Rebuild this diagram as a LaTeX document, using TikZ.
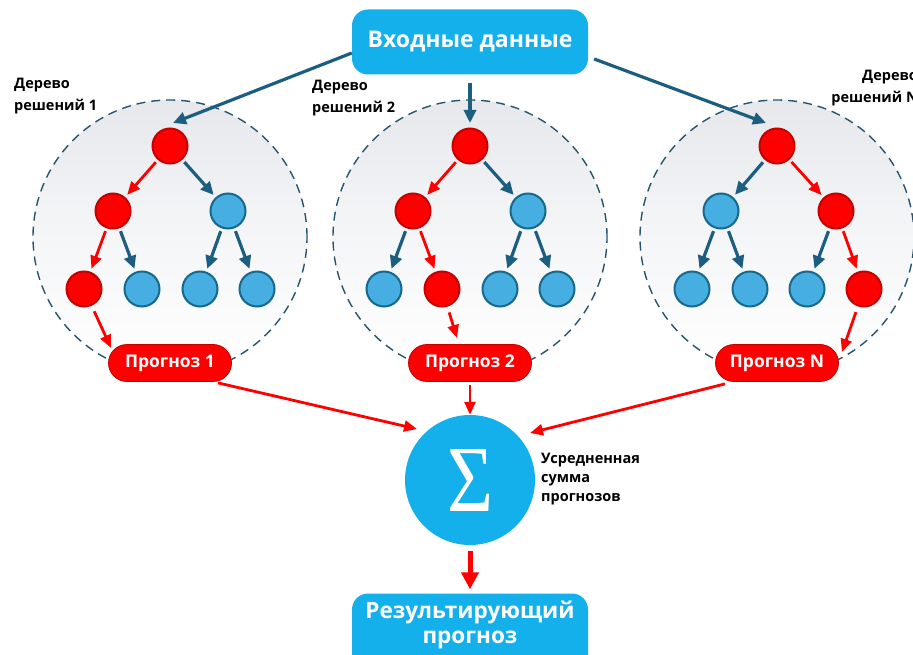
\documentclass[tikz,border=0pt]{standalone}
\usepackage{fontspec}
\setmainfont{Open Sans}
\newfontfamily\sigmafont{Liberation Serif}
\usetikzlibrary{arrows.meta,shapes.misc}
\definecolor{cyanbox}{RGB}{20,176,235}
\definecolor{nodeblue}{RGB}{70,174,224}
\definecolor{nodeblueb}{RGB}{22,104,140}
\definecolor{arrblue}{RGB}{28,94,128}
\definecolor{nodered}{RGB}{255,0,0}
\definecolor{noderedb}{RGB}{196,0,0}
\definecolor{dashblue}{RGB}{38,84,110}
\definecolor{zonegray}{RGB}{230,232,236}
\tikzset{
  rn/.style={circle,fill=nodered,draw=noderedb,line width=2pt,minimum size=35pt,inner sep=0pt},
  bn/.style={circle,fill=nodeblue,draw=nodeblueb,line width=2pt,minimum size=35pt,inner sep=0pt},
  barr/.style={draw=arrblue,line width=3.2pt,-{Triangle[length=13pt,width=12pt]},shorten <=3pt,shorten >=3pt},
  rarr/.style={draw=nodered,line width=2.8pt,-{Triangle[length=13pt,width=11pt]},shorten <=3pt,shorten >=3pt},
  farr/.style={draw=nodered,line width=2.8pt,-{Triangle[length=13pt,width=11pt]}},
  iarr/.style={draw=arrblue,line width=3.2pt,-{Triangle[length=13pt,width=12pt]}},
  progbox/.style={rounded rectangle,fill=nodered,draw=noderedb,line width=0.8pt,minimum width=131pt,minimum height=37pt,inner xsep=4pt,text=white,font=\bfseries\fontsize{17.5}{20}\selectfont},
  bigbox/.style={rounded corners=16pt,fill=cyanbox,minimum width=236pt,minimum height=65pt,text=white,font=\bfseries\fontsize{23}{28}\selectfont},
  lbl/.style={font=\bfseries\fontsize{14.5}{22}\selectfont,inner sep=0pt},
  zone/.style={draw=dashblue,dash pattern=on 9pt off 6pt,line width=1.4pt}
}
\begin{document}
\begin{tikzpicture}[x=1pt,y=-1pt]
\useasboundingbox (0,0) rectangle (913,655);
\clip (0,0) rectangle (913,655);
% zones
\foreach \cx in {170,470,777}{
  \shade[top color=zonegray,bottom color=white,middle color=white!60!zonegray] (\cx,237) circle (137pt);
  \draw[zone] (\cx,237) circle (137pt);
}
% labels
\node[lbl,anchor=west,align=left] (l1) at (14,96) {Дерево\\решений 1};
\node[lbl,anchor=west,align=left] (l2) at (312,98) {Дерево\\решений 2};
\node[lbl,anchor=east,align=right] (l3) at (918,88) {Дерево\\решений N};
% input box
\node[bigbox] (in) at (470,42) {Входные данные};
% tree 1
\node[rn] (t1r) at (170,146) {};
\node[rn] (t1a) at (113,211) {};
\node[bn] (t1b) at (228,211) {};
\node[rn] (t1aa) at (84,289) {};
\node[bn] (t1ab) at (142,289) {};
\node[bn] (t1ba) at (200,289) {};
\node[bn] (t1bb) at (257,289) {};
% tree 2
\node[rn] (t2r) at (470,146) {};
\node[rn] (t2a) at (413,211) {};
\node[bn] (t2b) at (528,211) {};
\node[bn] (t2aa) at (384,289) {};
\node[rn] (t2ab) at (442,289) {};
\node[bn] (t2ba) at (500,289) {};
\node[bn] (t2bb) at (557,289) {};
% tree N
\node[rn] (t3r) at (777,146) {};
\node[bn] (t3a) at (721,211) {};
\node[rn] (t3b) at (836,211) {};
\node[bn] (t3aa) at (692,289) {};
\node[bn] (t3ab) at (750,289) {};
\node[bn] (t3ba) at (807,289) {};
\node[rn] (t3bb) at (864,289) {};
% tree arrows
\draw[rarr] (t1r) -- (t1a);
\draw[barr] (t1r) -- (t1b);
\draw[rarr] (t1a) -- (t1aa);
\draw[barr] (t1a) -- (t1ab);
\draw[barr] (t1b) -- (t1ba);
\draw[barr] (t1b) -- (t1bb);
\draw[rarr] (t2r) -- (t2a);
\draw[barr] (t2r) -- (t2b);
\draw[barr] (t2a) -- (t2aa);
\draw[rarr] (t2a) -- (t2ab);
\draw[barr] (t2b) -- (t2ba);
\draw[barr] (t2b) -- (t2bb);
\draw[barr] (t3r) -- (t3a);
\draw[rarr] (t3r) -- (t3b);
\draw[barr] (t3a) -- (t3aa);
\draw[barr] (t3a) -- (t3ab);
\draw[barr] (t3b) -- (t3ba);
\draw[rarr] (t3b) -- (t3bb);
% input arrows
\coordinate (i1) at (173,123);
\coordinate (i2) at (470,123);
\coordinate (i3) at (766,123);
\draw[iarr] ([yshift=-11pt]in.west) -- (i1);
\draw[iarr] ([yshift=-8pt]in.south) -- (i2);
\draw[iarr] ([xshift=6pt,yshift=-17pt]in.east) -- (i3);
% forecasts
\node[progbox] (p1) at (170,363) {Прогноз 1};
\node[progbox] (p2) at (470,363) {Прогноз 2};
\node[progbox] (p3) at (777,363) {Прогноз N};
\coordinate (q1) at (111,348);
\coordinate (q2) at (457,338);
\coordinate (q3) at (842,352);
\draw[farr,shorten <=6pt] (t1aa) -- (q1);
\draw[farr,shorten <=6pt] (t2ab) -- (q2);
\draw[farr,shorten <=6pt] (t3bb) -- (q3);
% sum
\node[circle,fill=cyanbox,minimum size=130pt,inner sep=0pt,text=white] (sum) at (470,480) {\resizebox{46pt}{62pt}{\sigmafont Σ}};
\node[lbl,font=\bfseries\fontsize{14.5}{19}\selectfont,anchor=west,align=left] (sl) at (541,479) {Усредненная\\сумма\\прогнозов};
\coordinate (s1) at (417,429);
\coordinate (s3) at (530,433);
\draw[farr] ([xshift=5pt,yshift=-1pt]p1.south east) -- (s1);
\draw[farr,shorten <=3pt] (p2.south) -- (sum.north);
\draw[farr] ([xshift=-9pt,yshift=-2pt]p3.south west) -- (s3);
% result
\node[rounded corners=16pt,fill=cyanbox,minimum width=236pt,minimum height=95pt,inner sep=0pt] (res) at (470,641) {};
\node[text=white,font=\bfseries\fontsize{22.5}{25}\selectfont,align=center] (rest) at (470,625) {Результирующий\\прогноз};
\draw[draw=nodered,line width=5pt,-{Triangle[length=17pt,width=17pt]},shorten <=6pt,shorten >=4pt] (sum.south) -- (res.north);
\end{tikzpicture}
\end{document}
